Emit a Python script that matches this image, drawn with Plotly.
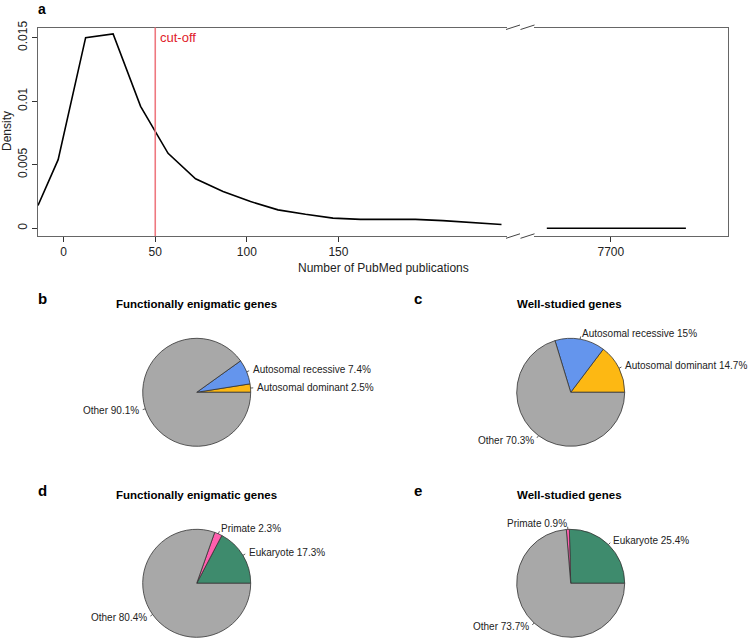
import math
import plotly.graph_objects as go

W, H = 748, 640

# ---------------- Panel a data ----------------
pub_counts = [-14, -3, 12, 27, 42, 57, 72, 87, 102, 117, 132, 147, 162, 177, 192, 207, 222, 239]
density = [0.0018, 0.0054, 0.0150, 0.0153, 0.0096, 0.0059, 0.0039, 0.0029, 0.0021,
           0.00145, 0.0011, 0.0008, 0.0007, 0.0007, 0.0007, 0.0006, 0.00048, 0.0003]
tail_counts = [7665, 7741]
tail_density = [0.0, 0.0]
cutoff = 50
left_ticks = [0, 50, 100, 150]
right_ticks = [7700]
y_ticks = [0, 0.005, 0.01, 0.015]
y_ticktext = ["0", "0.005", "0.01", "0.015"]

# ---------------- Pie data ----------------
inheritance_labels = ["Autosomal dominant", "Autosomal recessive", "Other"]
enigmatic_inheritance = [2.5, 7.4, 90.1]
wellstudied_inheritance = [14.7, 15.0, 70.3]
age_labels = ["Eukaryote", "Primate", "Other"]
enigmatic_age = [17.3, 2.3, 80.4]
wellstudied_age = [25.4, 0.9, 73.7]

inheritance_colors = ["#FDB813", "#6495ED", "#A8A8A8"]
age_colors = ["#3E8B6D", "#FF5FAE", "#A8A8A8"]

FONT = "Liberation Sans, Arial, sans-serif"


def px(x):
    return x / W


def py(y):
    return 1 - y / H


fig = go.Figure()
shapes = []
annotations = []

# ---------------- Panel a ----------------
fig.add_trace(go.Scatter(x=pub_counts, y=density, mode="lines",
                         line=dict(color="black", width=1.6),
                         xaxis="x", yaxis="y", showlegend=False, hoverinfo="skip"))
fig.add_trace(go.Scatter(x=tail_counts, y=tail_density, mode="lines",
                         line=dict(color="black", width=1.6),
                         xaxis="x2", yaxis="y2", showlegend=False, hoverinfo="skip"))

top_px, bot_px = 27.5, 236
yrange = [-0.000606, 0.0158]
axis_line = "#666666"
common_x = dict(showgrid=False, zeroline=False, ticks="outside", ticklen=5, tickcolor="#333",
                showline=True, linecolor=axis_line, linewidth=1, mirror=True,
                tickfont=dict(family=FONT, size=12, color="#222"), automargin=False)

layout_axes = dict(
    xaxis=dict(domain=[px(38), px(507)], range=[-14, 242], tickvals=left_ticks,
               anchor="y", **common_x),
    xaxis2=dict(domain=[px(534), px(728)], range=[7658, 7764], tickvals=right_ticks,
                anchor="y2", **common_x),
    yaxis=dict(domain=[py(bot_px), py(top_px)], range=yrange, tickvals=y_ticks,
               ticktext=y_ticktext, tickangle=-90, showgrid=False, zeroline=False,
               ticks="outside", ticklen=5, tickcolor="#333", showline=True,
               linecolor=axis_line, linewidth=1, anchor="x",
               tickfont=dict(family=FONT, size=12, color="#222"), automargin=False),
    yaxis2=dict(domain=[py(bot_px), py(top_px)], range=yrange, showgrid=False,
                zeroline=False, showticklabels=False, ticks="", showline=True,
                linecolor=axis_line, linewidth=1, anchor="x2", side="right",
                automargin=False),
)

# cut-off line
shapes.append(dict(type="line", xref="x", yref="y domain", x0=cutoff, x1=cutoff, y0=0, y1=1,
                   line=dict(color="#EE7880", width=1.6)))
annotations.append(dict(text="cut-off", xref="x", x=cutoff, xanchor="left", xshift=3,
                        yref="paper", y=py(38), yanchor="middle", showarrow=False,
                        font=dict(family=FONT, size=13, color="#E0202A")))

# axis break marks
for ytop, ybot in [(25, 29.5), (233.8, 238.3)]:
    for xa, xb in [(506, 520), (520.5, 534.5)]:
        shapes.append(dict(type="line", xref="paper", yref="paper",
                           x0=px(xa), y0=py(ybot), x1=px(xb), y1=py(ytop),
                           line=dict(color="#444", width=1)))

annotations.append(dict(text="Number of PubMed publications", xref="paper", yref="paper",
                        x=px(383), y=py(268), xanchor="center", yanchor="middle",
                        showarrow=False, font=dict(family=FONT, size=12, color="#222")))
annotations.append(dict(text="Density", xref="paper", yref="paper", x=px(7), y=py(131),
                        textangle=-90, xanchor="center", yanchor="middle", showarrow=False,
                        font=dict(family=FONT, size=12, color="#222")))
annotations.append(dict(text="<b>a</b>", xref="paper", yref="paper", x=px(42), y=py(8.5),
                        xanchor="center", yanchor="middle", showarrow=False,
                        font=dict(family=FONT, size=14, color="black")))


# ---------------- Pies ----------------
def fmt(v):
    return f"{v:g}%"


def add_pie(values, labels, colors, cx, cy, r, title, title_xy, letter, letter_xy):
    total = sum(values)
    # first slice begins at 3 o'clock and slices run counterclockwise (R pie default)
    rot = 90 - 360.0 * values[0] / total
    fig.add_trace(go.Pie(values=values, labels=labels, sort=False,
                         direction="counterclockwise", rotation=rot,
                         marker=dict(colors=colors, line=dict(color="#333", width=0.8)),
                         textinfo="none", hoverinfo="label+percent", showlegend=False,
                         domain=dict(x=[px(cx - r), px(cx + r)], y=[py(cy + r), py(cy - r)])))
    cum = 0.0
    for v, lab in zip(values, labels):
        theta = 2 * math.pi * (cum + v / 2) / total
        cum += v
        c, s = math.cos(theta), math.sin(theta)
        shapes.append(dict(type="line", xref="paper", yref="paper",
                           x0=px(cx + r * c), y0=py(cy - r * s),
                           x1=px(cx + 1.05 * r * c), y1=py(cy - 1.05 * r * s),
                           line=dict(color="#333", width=0.8)))
        annotations.append(dict(text=f"{lab} {fmt(v)}", xref="paper", yref="paper",
                                x=px(cx + 1.1 * r * c), y=py(cy - 1.1 * r * s),
                                xanchor="left" if c >= 0 else "right", yanchor="middle",
                                showarrow=False, borderpad=0,
                                font=dict(family=FONT, size=10, color="#222")))
    annotations.append(dict(text=f"<b>{title}</b>", xref="paper", yref="paper",
                            x=px(title_xy[0]), y=py(title_xy[1]), xanchor="center",
                            yanchor="middle", showarrow=False,
                            font=dict(family=FONT, size=11.5, color="black")))
    annotations.append(dict(text=f"<b>{letter}</b>", xref="paper", yref="paper",
                            x=px(letter_xy[0]), y=py(letter_xy[1]), xanchor="center",
                            yanchor="middle", showarrow=False,
                            font=dict(family=FONT, size=15, color="black")))


R = 54
add_pie(enigmatic_inheritance, inheritance_labels, inheritance_colors, 196.7, 392.3, R,
        "Functionally enigmatic genes", (196.2, 303.5), "b", (42.5, 298))
add_pie(wellstudied_inheritance, inheritance_labels, inheritance_colors, 570.7, 392.3, R,
        "Well-studied genes", (569.8, 303.5), "c", (418.5, 298.5))
add_pie(enigmatic_age, age_labels, age_colors, 196.7, 583.3, R,
        "Functionally enigmatic genes", (196.2, 495), "d", (42.5, 490))
add_pie(wellstudied_age, age_labels, age_colors, 570.7, 583.3, R,
        "Well-studied genes", (569.8, 495), "e", (418, 490.5))

fig.update_layout(
    template="none",
    width=W, height=H,
    margin=dict(l=0, r=0, t=0, b=0, pad=0),
    paper_bgcolor="white", plot_bgcolor="white",
    font=dict(family=FONT, size=12, color="#222"),
    shapes=shapes, annotations=annotations,
    showlegend=False,
    **layout_axes,
)

fig.write_html("out.html", config={"displayModeBar": False},
               post_script="document.body.style.margin='0px';document.body.style.padding='0px';")
